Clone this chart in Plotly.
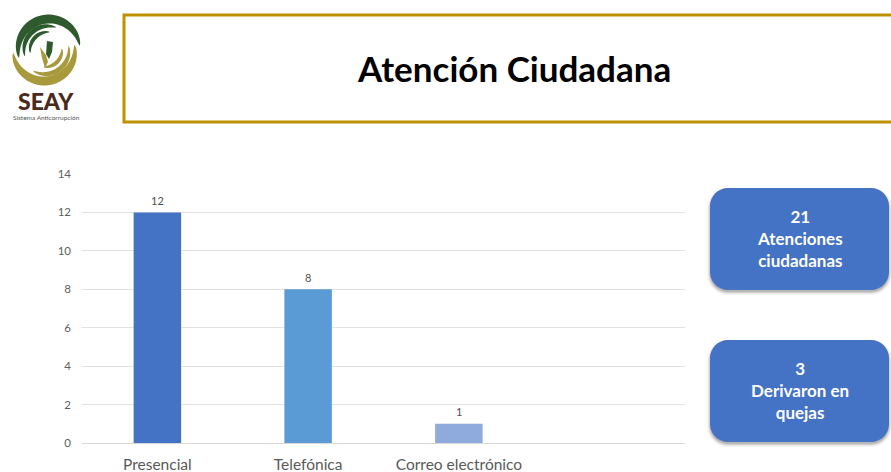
import math
import plotly.graph_objects as go

categories = ["Presencial", "Telefónica", "Correo electrónico", " "]
values = [12, 8, 1, None]
labels = ["12", "8", "1", ""]
bar_colors = ["#4472C4", "#5B9BD5", "#8FAADC", "#8FAADC"]
y_ticks = [0, 2, 4, 6, 8, 10, 12, 14]
title_text = "Atención Ciudadana"
box_texts = ["21<br>Atenciones<br>ciudadanas", "3<br>Derivaron en<br>quejas"]

W, H = 891, 472
FONT = "Lato, 'Open Sans', sans-serif"


def px(x):
    return x / W


def py(y):
    return 1 - y / H


def P(x, y):
    return f"{px(x):.5f},{py(y):.5f}"


def rrect(x0, y0, x1, y1, r):
    k = 0.45 * r
    return (
        f"M{P(x0 + r, y0)} L{P(x1 - r, y0)} C{P(x1 - k, y0)} {P(x1, y0 + k)} {P(x1, y0 + r)} "
        f"L{P(x1, y1 - r)} C{P(x1, y1 - k)} {P(x1 - k, y1)} {P(x1 - r, y1)} "
        f"L{P(x0 + r, y1)} C{P(x0 + k, y1)} {P(x0, y1 - k)} {P(x0, y1 - r)} "
        f"L{P(x0, y0 + r)} C{P(x0, y0 + k)} {P(x0 + k, y0)} {P(x0 + r, y0)} Z"
    )


def crescent(cx, cy, r, width, a0, a1, n=40):
    """Tapered stripe: thickest in the middle, pointed at both ends. Angles in degrees, screen y down."""
    outer, inner = [], []
    for i in range(n + 1):
        t = i / n
        a = math.radians(a0 + (a1 - a0) * t)
        w = width * math.sin(math.pi * t) ** 0.6
        outer.append((cx + (r + w / 2) * math.cos(a), cy + (r + w / 2) * math.sin(a)))
        inner.append((cx + (r - w / 2) * math.cos(a), cy + (r - w / 2) * math.sin(a)))
    pts = outer + inner[::-1]
    return "M" + " L".join(P(*p) for p in pts) + " Z"


fig = go.Figure(
    go.Bar(
        x=categories,
        y=values,
        width=0.315,
        marker=dict(color=bar_colors, line=dict(width=0)),
        cliponaxis=False,
        hoverinfo="skip",
    )
)

shapes = []
shapes.append(dict(type="rect", xref="paper", yref="paper", x0=px(124), x1=px(900), y0=py(15), y1=py(122),
                   line=dict(color="#BF9000", width=3), fillcolor="white", layer="below"))

for (y0, y1) in [(188, 290), (340, 442)]:
    for grow, alpha in [(3, 0.04), (2, 0.06), (1, 0.09), (0, 0.12)]:
        shapes.append(dict(type="path", xref="paper", yref="paper",
                           path=rrect(710 - grow, y0 + 3 - grow, 889 + grow, y1 + 2 + grow, 18 + grow),
                           fillcolor=f"rgba(0,0,0,{alpha})", line=dict(width=0), layer="below"))
    shapes.append(dict(type="path", xref="paper", yref="paper", path=rrect(710, y0, 889, y1, 18),
                       fillcolor="#4472C4", line=dict(width=0), layer="below"))

GREEN, OLIVE = "#2F5A2E", "#A89A3C"
for cx, cy, r, w, a0, a1, c in [
    (49, 50, 31, 9, -195, -8, GREEN),
    (48, 50, 24, 5, -195, -70, GREEN),
    (48, 50, 18, 4, -190, -85, GREEN),
    (44, 50, 31, 9, 175, -10, OLIVE),
    (45, 50, 24, 5, 120, -10, OLIVE),
    (45, 50, 17, 4, 95, -5, OLIVE),
]:
    shapes.append(dict(type="path", xref="paper", yref="paper", path=crescent(cx, cy, r, w, a0, a1),
                       fillcolor=c, line=dict(width=0), layer="above"))
shapes.append(dict(type="path", xref="paper", yref="paper",
                   path=f"M{P(47, 41)} L{P(53, 42)} L{P(52, 52)} L{P(49, 59)} L{P(46, 54)} Z",
                   fillcolor=GREEN, line=dict(width=0)))
shapes.append(dict(type="path", xref="paper", yref="paper",
                   path=f"M{P(40, 47)} L{P(46, 55)} L{P(48, 62)} L{P(45, 68)} L{P(42, 58)} Z",
                   fillcolor=OLIVE, line=dict(width=0)))

annotations = [
    dict(text=title_text, xref="paper", yref="paper", x=px(514), y=py(68), showarrow=False,
         xanchor="center", yanchor="middle", font=dict(size=35, color="black", family=FONT, weight=700)),
    dict(text="SEAY", xref="paper", yref="paper", x=px(46), y=py(101), showarrow=False,
         xanchor="center", yanchor="middle", font=dict(size=23, color="#4A2A1C", family=FONT, weight=900)),
    dict(text="Sistema Anticorrupción", xref="paper", yref="paper", x=px(46), y=py(117), showarrow=False,
         xanchor="center", yanchor="middle", font=dict(size=6.5, color="#555555", family=FONT)),
]
for text, yc in zip(box_texts, [238, 390]):
    annotations.append(dict(text=text, xref="paper", yref="paper", x=px(799.5), y=py(yc), showarrow=False,
                            xanchor="center", yanchor="middle",
                            font=dict(size=17, color="white", family=FONT, weight=700)))
for c, v, t in zip(categories, values, labels):
    if v is not None:
        annotations.append(dict(text=t, x=c, y=v, xref="x", yref="y", showarrow=False, yshift=12,
                                xanchor="center", yanchor="middle",
                                font=dict(size=11, color="#505050", family=FONT)))

fig.update_layout(
    width=W, height=H, margin=dict(l=0, r=0, t=0, b=0),
    paper_bgcolor="white", plot_bgcolor="white", showlegend=False,
    shapes=shapes, annotations=annotations, font=dict(family=FONT),
    xaxis=dict(domain=[px(82), px(685)], type="category", categoryorder="array", categoryarray=categories,
               range=[-0.5, 3.5], showgrid=False, zeroline=False, showline=False, ticks="", automargin=False,
               tickfont=dict(size=15.5, color="#595959", family=FONT), ticklabelstandoff=10, fixedrange=True),
    yaxis=dict(domain=[py(443), py(174)], range=[0, 14], tickvals=y_ticks, showgrid=True, gridcolor="#E2E2E2",
               gridwidth=1, zeroline=True, zerolinecolor="#D9D9D9", zerolinewidth=1, showline=False, ticks="",
               automargin=False, tickfont=dict(size=11.5, color="#606060", family=FONT),
               ticklabelstandoff=10, fixedrange=True),
)

fig.write_html("out.html", config={"displayModeBar": False},
               post_script="document.body.style.margin='0';document.body.style.overflow='hidden';")
